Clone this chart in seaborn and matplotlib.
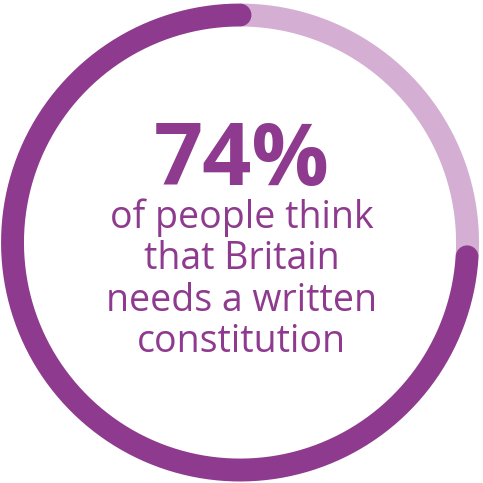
import numpy as np
import pandas as pd
import matplotlib.pyplot as plt
import seaborn as sns

# values
share_pct = 74
headline = "74%"
body_lines = ["of people think", "that Britain", "needs a written", "constitution"]

DARK = "#8e3a8e"
LIGHT = "#d4aed3"
SIZE = 483


def arc_frame(start_deg, span_deg, n=400):
    theta = np.deg2rad(np.linspace(start_deg, start_deg + span_deg, n))
    return pd.DataFrame({"x": np.cos(theta), "y": np.sin(theta)})


def main():
    sns.set_theme(style="white")
    plt.rcParams["font.family"] = ["Open Sans", "DejaVu Sans"]

    fig = plt.figure(figsize=(SIZE / 100, SIZE / 100), dpi=100)
    ax = fig.add_axes([0, 0, 1, 1])

    lw = 16.5
    # remaining share: clockwise from the top
    rest = arc_frame(90, -(100 - share_pct) * 3.6)
    sns.lineplot(x="x", y="y", data=rest, sort=False, color=LIGHT,
                 linewidth=lw, ax=ax, solid_capstyle="butt")
    # main share: counter-clockwise from the top
    main_arc = arc_frame(90, share_pct * 3.6)
    sns.lineplot(x="x", y="y", data=main_arc, sort=False, color=DARK,
                 linewidth=lw, ax=ax, solid_capstyle="round")

    ax.text(0.5, 1 - 185 / SIZE, headline, ha="center", va="baseline",
            color=DARK, fontsize=62, fontweight="bold",
            transform=ax.transAxes)
    for i, line in enumerate(body_lines):
        base = 228 + 41.3 * i
        ax.text(0.5, 1 - base / SIZE, line, ha="center", va="baseline",
                color=DARK, fontsize=27, fontweight="medium",
                transform=ax.transAxes)

    ax.set_xlim(-1.055, 1.068)
    ax.set_ylim(-1.057, 1.066)
    ax.set_aspect("equal")
    ax.axis("off")
    fig.savefig("out.png", dpi=100, facecolor="white")


if __name__ == "__main__":
    main()
